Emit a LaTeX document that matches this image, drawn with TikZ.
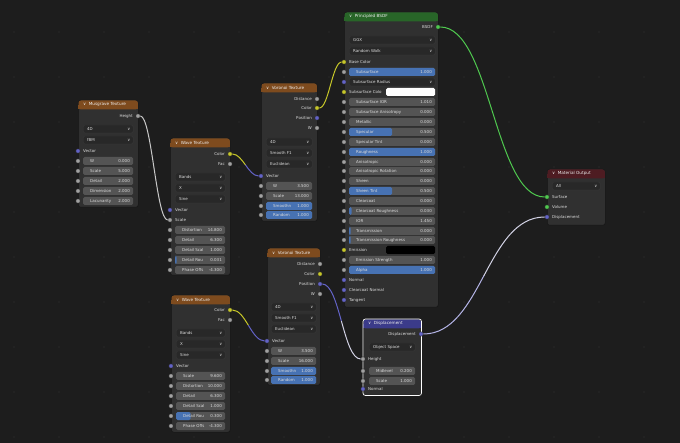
\documentclass[tikz,border=0pt]{standalone}
\usepackage{fontspec}
\setmainfont{DejaVu Sans}
\usetikzlibrary{calc}

\definecolor{canvascol}{HTML}{1D1D1D}
\definecolor{griddot}{HTML}{282828}
\definecolor{nodebody}{HTML}{303030}
\definecolor{nodeedge}{HTML}{161616}
\definecolor{fieldgrey}{HTML}{545454}
\definecolor{dropgrey}{HTML}{282828}
\definecolor{dropedge}{HTML}{3A3A3A}
\definecolor{fieldblue}{HTML}{4772B3}
\definecolor{labeltext}{HTML}{DCDCDC}
\definecolor{headtext}{HTML}{EEEEEE}
\definecolor{texhead}{HTML}{7E4B1E}
\definecolor{shadhead}{HTML}{286528}
\definecolor{outhead}{HTML}{4E1C22}
\definecolor{vechead}{HTML}{3B3B8A}
\definecolor{sockgrey}{HTML}{A1A1A1}
\definecolor{sockyellow}{HTML}{C7C729}
\definecolor{sockblue}{HTML}{6363C7}
\definecolor{sockgreen}{HTML}{4FC94F}
\definecolor{wiregrey}{HTML}{C8C8C8}
\definecolor{wirelav}{HTML}{B4B4E6}
\definecolor{wirelight}{HTML}{D2D2E4}

\pgfdeclarelayer{canvas}
\pgfdeclarelayer{wires}
\pgfsetlayers{canvas,wires,main}

% node frame: id, x1, y1, x2, y2, header colour, title
\newcommand{\bnode}[7]{%
  \node[body, minimum width={#4-#2}, minimum height={#5-#3}, anchor=north west] (#1) at (#2,#3) {};
  \node[head, fill=#6, minimum width={#4-#2-0.6}, anchor=north west] (#1-h) at (#2+0.3,#3+0.3) {};
  \fill[#6] (#2+0.3,#3+5) rectangle (#4-0.3,#3+9.3);
  \node[title, anchor=west] (#1-t) at (#2+5,#3+4.8) {∨\hspace{2.5pt}#7};}
% sockets: id, x, y, colour, label
\newcommand{\insock}[5]{%
  \node[sock, fill=#4] (#1) at (#2,#3) {};
  \node[txt, anchor=west] (#1-l) at (#2+5,#3) {#5};}
\newcommand{\outsock}[5]{%
  \node[sock, fill=#4] (#1) at (#2,#3) {};
  \node[txt, anchor=east] (#1-l) at (#2-5,#3) {#5};}
% dropdown: id, x1, x2, y, text
\newcommand{\dropdown}[5]{%
  \node[drop, minimum width={#3-#2}, anchor=west] (#1) at (#2,#4) {};
  \node[txt, anchor=west] (#1-l) at (#2+4,#4) {#5};
  \node[txt, anchor=east] (#1-c) at (#3-2.5,#4) {∨};}
% slider: id, socket x, x1, x2, y, label, value, fraction
\newcommand{\slider}[8]{%
  \node[sock, fill=sockgrey] (#1) at (#2,#5) {};
  \node[field, minimum width={#4-#3}, anchor=west] (#1-f) at (#3,#5) {};
  \ifdim#8pt>0pt \fill[fieldblue, rounded corners=1.5pt] (#3,#5-4) rectangle ({#3+#8*(#4-#3)},#5+4);\fi
  \node[txt, anchor=west] (#1-l) at (#3+7,#5) {#6};
  \node[txt, anchor=east] (#1-v) at (#4-3,#5) {#7};}
% colour swatch: id, socket x, x1, x2, y, label, colour
\newcommand{\swatch}[7]{%
  \node[sock, fill=sockyellow] (#1) at (#2,#5) {};
  \node[txt, anchor=west] (#1-l) at (#2+5,#5) {#6};
  \node[field, fill=#7, minimum width={#4-#3}, anchor=west] (#1-f) at (#3,#5) {};}
% wire: from, to, handle, colour at start, colour at end
\newcommand{\wire}[5]{%
  \draw[wire, #4] (#1) .. controls ($(#1)+(#3/2,0)$) and ($(#1)!0.25!(#2)+(#3/4,0)$) .. ($(#1)!0.5!(#2)$);
  \draw[wire, #5] ($(#1)!0.5!(#2)$) .. controls ($(#1)!0.75!(#2)-(#3/4,0)$) and ($(#2)-(#3/2,0)$) .. (#2);}

\begin{document}
\begin{tikzpicture}[x=1pt, y=-1pt,
  body/.style={draw=nodeedge, fill=nodebody, rounded corners=2.5pt, line width=0.5pt, inner sep=0pt},
  head/.style={rounded corners=2.5pt, minimum height=9pt, inner sep=0pt},
  title/.style={font=\fontsize{4.2}{5}\selectfont, text=headtext, inner sep=0pt},
  txt/.style={font=\fontsize{4}{5}\selectfont, text=labeltext, inner sep=0pt},
  sock/.style={circle, draw=black!85, line width=0.3pt, minimum size=4.4pt, inner sep=0pt},
  field/.style={fill=fieldgrey, rounded corners=1.5pt, minimum height=8pt, inner sep=0pt},
  drop/.style={fill=dropgrey, draw=dropedge, line width=0.3pt, rounded corners=1.5pt, minimum height=8pt, inner sep=0pt},
  wire/.style={line width=1pt, line cap=round}]
  \useasboundingbox (0,0) rectangle (680,443);

  % Canvas mit Punktraster
  \begin{pgfonlayer}{canvas}
    \fill[canvascol] (0,0) rectangle (680,443);
    \foreach \x in {14,59,...,644}
      \foreach \y in {32,77,...,437}
        \fill[griddot] (\x,\y) circle (0.9);
  \end{pgfonlayer}

  % Musgrave Texture
  \bnode{mus}{78}{100}{138}{207}{texhead}{Musgrave Texture}
  \outsock{musheight}{138}{116}{sockgrey}{Height}
  \dropdown{musdim}{83}{133}{129}{4D}
  \dropdown{mustype}{83}{133}{140}{fBM}
  \insock{musvec}{78}{151}{sockblue}{Vector}
  \slider{musw}{78}{83}{133}{161}{W}{0.000}{0}
  \slider{musscale}{78}{83}{133}{171}{Scale}{5.000}{0}
  \slider{musdetail}{78}{83}{133}{181}{Detail}{2.000}{0}
  \slider{musdimen}{78}{83}{133}{191}{Dimension}{2.000}{0}
  \slider{muslac}{78}{83}{133}{201}{Lacunarity}{2.000}{0}

  % Wave Texture (oben)
  \bnode{wave1}{170}{138}{230}{275}{texhead}{Wave Texture}
  \outsock{wave1color}{230}{154}{sockyellow}{Color}
  \outsock{wave1fac}{230}{164}{sockgrey}{Fac}
  \dropdown{wave1type}{175}{225}{177}{Bands}
  \dropdown{wave1dir}{175}{225}{188}{X}
  \dropdown{wave1prof}{175}{225}{199}{Sine}
  \insock{wave1vec}{170}{210}{sockblue}{Vector}
  \insock{wave1scale}{170}{220}{sockgrey}{Scale}
  \slider{wave1dist}{170}{175}{225}{230}{Distortion}{14.800}{0}
  \slider{wave1detail}{170}{175}{225}{240}{Detail}{6.300}{0}
  \slider{wave1dscale}{170}{175}{225}{250}{Detail Scal}{1.000}{0}
  \slider{wave1drough}{170}{175}{225}{260}{Detail Rou}{0.031}{0.031}
  \slider{wave1phase}{170}{175}{225}{270}{Phase Offs}{-4.300}{0}

  % Voronoi Texture (oben)
  \bnode{vor1}{261}{83}{317}{221}{texhead}{Voronoi Texture}
  \outsock{vor1dist}{317}{99}{sockgrey}{Distance}
  \outsock{vor1color}{317}{108}{sockyellow}{Color}
  \outsock{vor1pos}{317}{118}{sockblue}{Position}
  \outsock{vor1w}{317}{128}{sockgrey}{W}
  \dropdown{vor1dim}{266}{312}{142}{4D}
  \dropdown{vor1feat}{266}{312}{153}{Smooth F1}
  \dropdown{vor1metric}{266}{312}{164}{Euclidean}
  \insock{vor1vec}{261}{176}{sockblue}{Vector}
  \slider{vor1win}{261}{266}{312}{186}{W}{3.500}{0}
  \slider{vor1scale}{261}{266}{312}{196}{Scale}{13.000}{0}
  \slider{vor1smooth}{261}{266}{312}{206}{Smoothn}{1.000}{1}
  \slider{vor1random}{261}{266}{312}{215}{Random}{1.000}{1}

  % Principled BSDF
  \bnode{bsdf}{344}{12}{438}{307}{shadhead}{Principled BSDF}
  \outsock{bsdfout}{438}{27}{sockgreen}{BSDF}
  \dropdown{bsdfdist}{349}{435}{40}{GGX}
  \dropdown{bsdfsss}{349}{435}{51}{Random Walk}
  \insock{bsdfbase}{344}{62}{sockyellow}{Base Color}
  \slider{bsdfsub}{344}{349}{435}{72}{Subsurface}{1.000}{1}
  \node[sock, fill=sockblue] (bsdfradius) at (344,82) {};
  \dropdown{bsdfradiusd}{349}{435}{82}{Subsurface Radius}
  \swatch{bsdfsubcol}{344}{386}{435}{92}{Subsurface Colo}{white}
  \slider{bsdfior1}{344}{349}{435}{102}{Subsurface IOR}{1.010}{0}
  \slider{bsdfsubani}{344}{349}{435}{112}{Subsurface Anisotropy}{0.000}{0}
  \slider{bsdfmetal}{344}{349}{435}{122}{Metallic}{0.000}{0}
  \slider{bsdfspec}{344}{349}{435}{132}{Specular}{0.500}{0.5}
  \slider{bsdfspect}{344}{349}{435}{142}{Specular Tint}{0.000}{0}
  \slider{bsdfrough}{344}{349}{435}{152}{Roughness}{1.000}{1}
  \slider{bsdfani}{344}{349}{435}{162}{Anisotropic}{0.000}{0}
  \slider{bsdfanirot}{344}{349}{435}{171}{Anisotropic Rotation}{0.000}{0}
  \slider{bsdfsheen}{344}{349}{435}{181}{Sheen}{0.000}{0}
  \slider{bsdfsheent}{344}{349}{435}{191}{Sheen Tint}{0.500}{0.5}
  \slider{bsdfcoat}{344}{349}{435}{201}{Clearcoat}{0.000}{0}
  \slider{bsdfcoatr}{344}{349}{435}{211}{Clearcoat Roughness}{0.030}{0.03}
  \slider{bsdfior2}{344}{349}{435}{221}{IOR}{1.450}{0}
  \slider{bsdftrans}{344}{349}{435}{231}{Transmission}{0.000}{0.02}
  \slider{bsdftransr}{344}{349}{435}{240}{Transmission Roughness}{0.000}{0.02}
  \swatch{bsdfemis}{344}{386}{435}{250}{Emission}{black}
  \slider{bsdfemstr}{344}{349}{435}{260}{Emission Strength}{1.000}{0}
  \slider{bsdfalpha}{344}{349}{435}{270}{Alpha}{1.000}{1}
  \insock{bsdfnormal}{344}{280}{sockblue}{Normal}
  \insock{bsdfcoatn}{344}{290}{sockblue}{Clearcoat Normal}
  \insock{bsdftangent}{344}{300}{sockblue}{Tangent}

  % Voronoi Texture (unten)
  \bnode{vor2}{267}{248}{320}{385}{texhead}{Voronoi Texture}
  \outsock{vor2dist}{320}{264}{sockgrey}{Distance}
  \outsock{vor2color}{320}{274}{sockyellow}{Color}
  \outsock{vor2pos}{320}{284}{sockblue}{Position}
  \outsock{vor2w}{320}{294}{sockgrey}{W}
  \dropdown{vor2dim}{271}{316}{307}{4D}
  \dropdown{vor2feat}{271}{316}{318}{Smooth F1}
  \dropdown{vor2metric}{271}{316}{329}{Euclidean}
  \insock{vor2vec}{267}{341}{sockblue}{Vector}
  \slider{vor2win}{267}{271}{316}{351}{W}{3.500}{0}
  \slider{vor2scale}{267}{271}{316}{361}{Scale}{16.000}{0}
  \slider{vor2smooth}{267}{271}{316}{371}{Smoothn}{1.000}{1}
  \slider{vor2random}{267}{271}{316}{380}{Random}{1.000}{1}

  % Wave Texture (unten)
  \bnode{wave2}{171}{295}{230}{432}{texhead}{Wave Texture}
  \outsock{wave2color}{230}{310}{sockyellow}{Color}
  \outsock{wave2fac}{230}{320}{sockgrey}{Fac}
  \dropdown{wave2type}{176}{225}{333}{Bands}
  \dropdown{wave2dir}{176}{225}{344}{X}
  \dropdown{wave2prof}{176}{225}{355}{Sine}
  \insock{wave2vec}{171}{366}{sockblue}{Vector}
  \slider{wave2scale}{171}{176}{225}{376}{Scale}{9.600}{0}
  \slider{wave2dist}{171}{176}{225}{386}{Distortion}{10.000}{0}
  \slider{wave2detail}{171}{176}{225}{396}{Detail}{6.300}{0}
  \slider{wave2dscale}{171}{176}{225}{406}{Detail Scal}{1.000}{0}
  \slider{wave2drough}{171}{176}{225}{416}{Detail Rou}{0.300}{0.3}
  \slider{wave2phase}{171}{176}{225}{426}{Phase Offs}{-4.300}{0}

  % Displacement (ausgewaehlt)
  \bnode{disp}{363}{319}{421}{395}{vechead}{Displacement}
  \draw[white, line width=0.7pt, rounded corners=2.5pt] (disp.north west) rectangle (disp.south east);
  \outsock{dispout}{421}{334}{sockblue}{Displacement}
  \dropdown{dispspace}{369}{415}{347}{Object Space}
  \insock{dispheight}{363}{359}{sockgrey}{Height}
  \slider{dispmid}{363}{369}{415}{371}{Midlevel}{0.200}{0}
  \slider{dispscale}{363}{369}{415}{381}{Scale}{1.000}{0}
  \insock{dispnormal}{363}{389}{sockblue}{Normal}

  % Material Output
  \bnode{mout}{547}{169}{605}{225}{outhead}{Material Output}
  \dropdown{moutall}{552}{600}{186}{All}
  \insock{moutsurf}{547}{197}{sockgreen}{Surface}
  \insock{moutvol}{547}{207}{sockgreen}{Volume}
  \insock{moutdisp}{547}{217}{sockblue}{Displacement}

  % Verbindungen
  \begin{pgfonlayer}{wires}
    \wire{musheight}{wave1scale}{16}{wiregrey}{wiregrey}
    \wire{wave1color}{vor1vec}{15}{sockyellow}{sockblue}
    \wire{vor1color}{bsdfbase}{14}{sockyellow}{sockyellow}
    \wire{wave2color}{vor2vec}{18}{sockyellow}{sockblue}
    \wire{vor2pos}{dispheight}{22}{sockblue}{wirelight}
    \wire{bsdfout}{moutsurf}{55}{sockgreen}{sockgreen}
    \wire{dispout}{moutdisp}{63}{wirelav}{wirelight}
  \end{pgfonlayer}
\end{tikzpicture}
\end{document}
